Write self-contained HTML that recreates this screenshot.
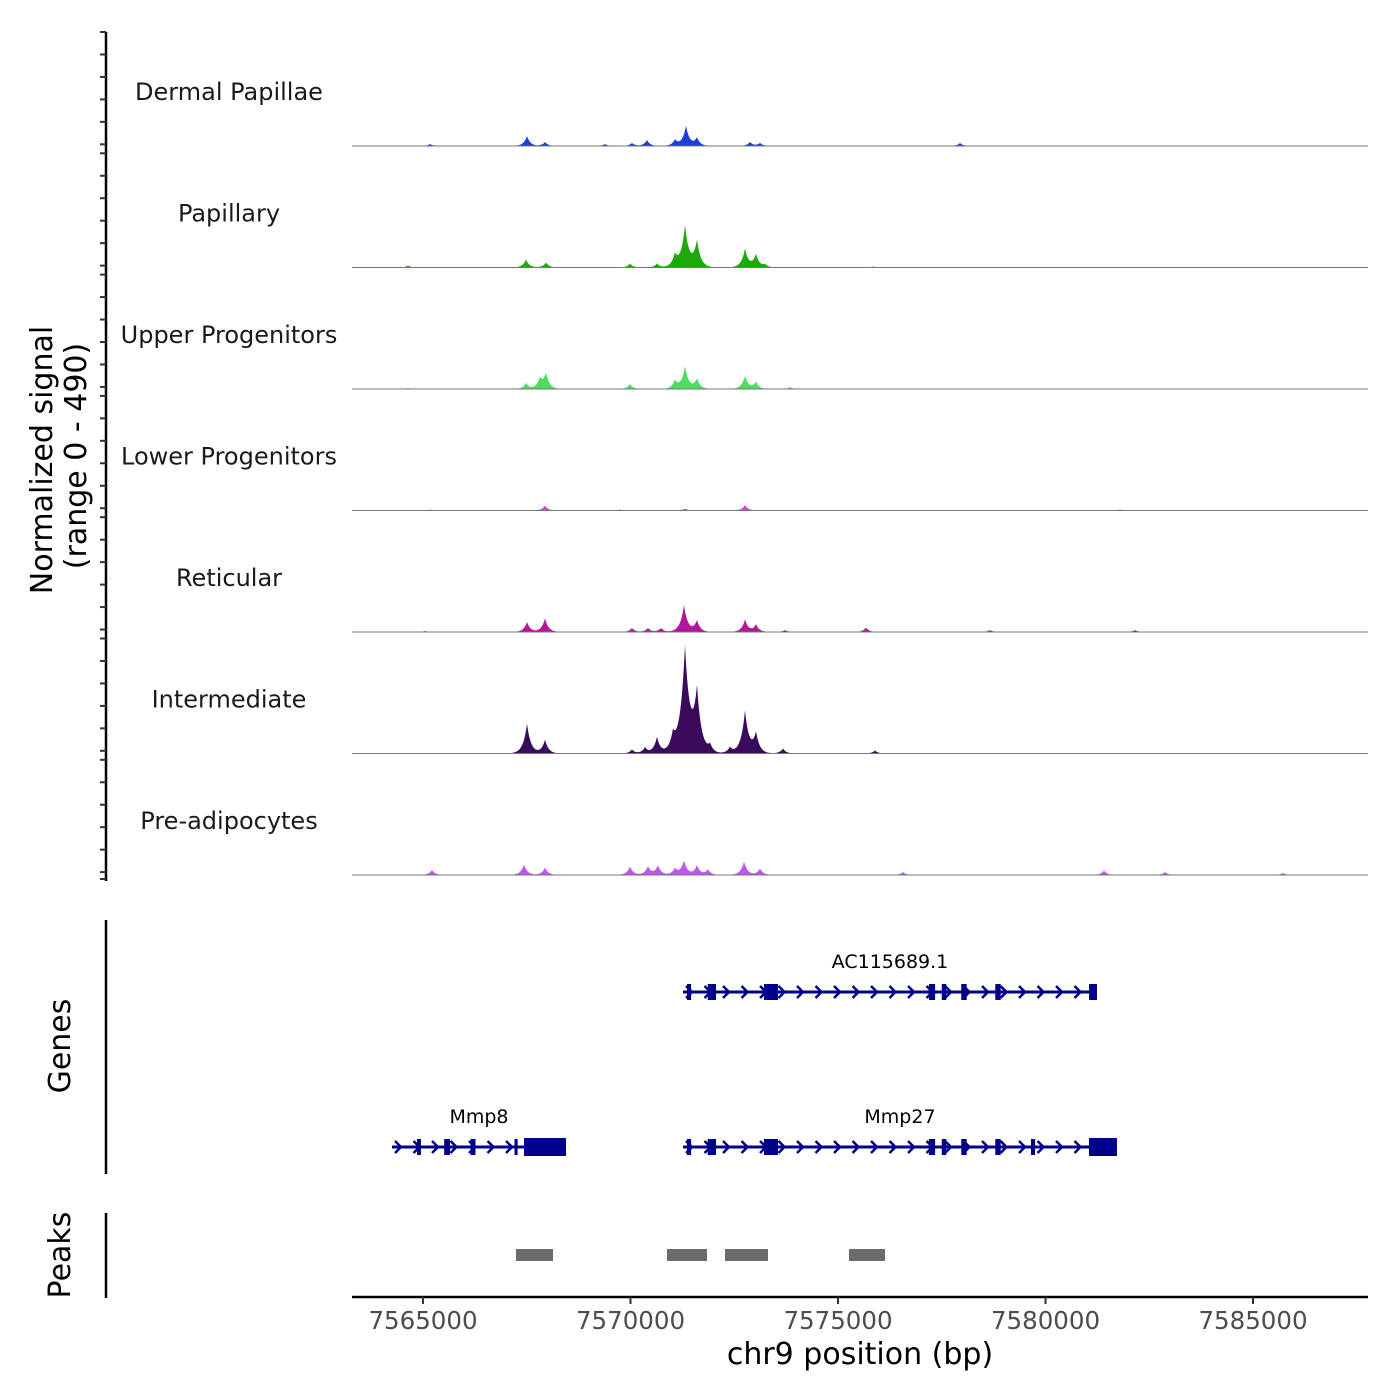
<!DOCTYPE html>
<html><head><meta charset="utf-8"><style>
html,body{margin:0;padding:0;background:#fff;}
svg{display:block;font-family:"DejaVu Sans","Liberation Sans",sans-serif;}
</style></head><body>
<svg id="chart" width="1400" height="1400" viewBox="0 0 1400 1400" xmlns="http://www.w3.org/2000/svg">
<g id="tracks"></g>
<g id="genes"></g>
<g id="peaks"></g>
<g id="axes"></g>
<text transform="translate(52,460) rotate(-90)" text-anchor="middle" font-size="30" fill="#000">Normalized signal</text>
<text transform="translate(86,456) rotate(-90)" text-anchor="middle" font-size="30" fill="#000">(range 0 - 490)</text>
<text transform="translate(70,1046) rotate(-90)" text-anchor="middle" font-size="30" fill="#000">Genes</text>
<text transform="translate(70,1255) rotate(-90)" text-anchor="middle" font-size="30" fill="#000">Peaks</text>
<text x="860" y="1364" text-anchor="middle" font-size="30" fill="#000">chr9 position (bp)</text>
</svg>
<script>
// ---- data ----
const trackNames = ["Dermal Papillae","Papillary","Upper Progenitors","Lower Progenitors","Reticular","Intermediate","Pre-adipocytes"];
const trackColors = ["#1a3fd6","#1fa80c","#4fdc60","#e63ddb","#b3159d","#3a0a5b","#bb56f4"];
const dpPos = [7565168,7567506,7567940,7569385,7570036,7570397,7571072,7571337,7571602,7572879,7573120,7577939];
const dpVal = [8,40,16,8,12,24,24,80,32,16,12,12];
const papPos = [7564638,7567482,7567964,7569988,7570638,7571072,7571313,7571602,7572759,7573024,7573240,7575843];
const papVal = [8,32,20,16,16,48,165,105,75,52,12,4];
const upPos = [7564638,7567482,7567819,7567964,7569988,7571072,7571313,7571602,7572759,7573024,7573843];
const upVal = [4,24,40,60,20,32,90,40,52,28,8];
const lowPos = [7565168,7567940,7569747,7571313,7572759,7581794];
const lowVal = [4,20,4,8,22,4];
const retPos = [7565048,7567506,7567940,7570036,7570421,7570734,7571289,7571602,7572759,7573024,7573722,7575674,7578662,7582156];
const retVal = [4,40,55,16,16,16,108,45,50,30,8,18,8,8];
const intPos = [7567506,7567940,7570036,7570349,7570638,7571024,7571313,7571602,7571916,7572397,7572759,7573024,7573674,7575891];
const intVal = [120,55,16,24,65,62,420,240,30,24,170,78,20,12];
const prePos = [7565217,7567434,7567940,7569988,7570421,7570662,7571072,7571289,7571602,7571867,7572735,7573120,7576566,7581409,7582879,7585722];
const preVal = [20,42,30,34,34,38,26,56,38,22,54,26,12,18,12,8];
const trackPos = [dpPos,papPos,upPos,lowPos,retPos,intPos,prePos];
const trackVal = [dpVal,papVal,upVal,lowVal,retVal,intVal,preVal];

const geneNames = ["AC115689.1","Mmp8","Mmp27"];
const geneStart = [7571265,7564253,7571265];
const geneEnd = [7581240,7568446,7581722];
const geneRow = [0,1,1];
const ac1Exons = [[7571360,7571460],[7571860,7572060],[7573215,7573555],[7577190,7577340],[7577500,7577610],[7577970,7578100],[7578790,7578920],[7581050,7581240]];
const mmp8Exons = [[7564855,7564950],[7565510,7565650],[7566145,7566265],[7567205,7567280],[7567434,7568446]];
const mmp27Exons = [[7571360,7571460],[7571860,7572060],[7573215,7573555],[7577190,7577340],[7577500,7577610],[7577970,7578100],[7578790,7578920],[7579650,7579750],[7581048,7581722]];
const geneExons = [ac1Exons,mmp8Exons,mmp27Exons];

const peakStart = [7567241,7570879,7572277,7575265];
const peakEnd = [7568133,7571843,7573313,7576133];

const xTicks = [7565000,7570000,7575000,7580000,7585000];
const yMax = 490;

// ---- scales ----
const X0 = 352, X1 = 1368, BP0 = 7563289, BP1 = 7587771;
function xs(bp){ return X0 + (bp-BP0)/(BP1-BP0)*(X1-X0); }
const trackTop = 24.5, trackH = 121.5;
function ys(i,v){ return trackTop + (i+1)*trackH - v/yMax*trackH; }

const NS = "http://www.w3.org/2000/svg";
function mk(tag, parent, attrs){ const e=document.createElementNS(NS,tag); for(const k in attrs) e.setAttribute(k,attrs[k]); parent.appendChild(e); return e; }

const gT = document.getElementById('tracks');
for(let i=0;i<trackNames.length;i++){
  const base = trackTop+(i+1)*trackH;
  const pos = trackPos[i], val = trackVal[i];
  let d = `M${X0},${base}`;
  for(let px=X0; px<=X1; px+=1){
    const bp = BP0 + (px-X0)/(BP1-BP0)*0 + (px-X0)/(X1-X0)*(BP1-BP0);
    let v = 0;
    for(let k=0;k<pos.length;k++){
      const s = 70 + Math.sqrt(val[k])*3;
      const dd = (bp-pos[k])/s;
      v += val[k]*Math.exp(-Math.abs(dd)*1.1);
    }
    d += ` L${px},${ys(i,v).toFixed(2)}`;
  }
  d += ` L${X1},${base} Z`;
  const p = mk('path', gT, {d:d, fill:trackColors[i]});
  
  
  const bl = mk('line', gT, {x1:X0,x2:X1,y1:base,y2:base,stroke:'#777','stroke-width':1});
  
  
  const t = mk('text', gT, {x:229,y:base-46,'text-anchor':'middle','font-size':24,fill:'#1a1a1a'});
  t.textContent = trackNames[i];
  
  
}

// genes
const gG = document.getElementById('genes');
const rowY = [992,1147];
const GC = '#00008b';
for(let g=0;g<geneNames.length;g++){
  const y = rowY[geneRow[g]];
  const a = xs(geneStart[g]), b = xs(geneEnd[g]);
  const grp = mk('g', gG, {});
  
  
  mk('line', grp, {x1:a,x2:b,y1:y,y2:y,stroke:GC,'stroke-width':3});
  for(let px=a+6; px<b-4; px+=18.5){
    mk('path', grp, {d:`M${px-3},${y-6} L${px+3},${y} L${px-3},${y+6}`,fill:'none',stroke:GC,'stroke-width':2.5});
  }
  for(const ex of geneExons[g]){
    const ea = xs(ex[0]), eb = xs(ex[1]);
    const big = (eb-ea)>20;
    mk('rect', grp, {x:ea,y:y-(big?9:8),width:Math.max(eb-ea,3),height:big?18:16,fill:GC});
  }
  const t = mk('text', grp, {x:(a+b)/2,y:y-24,'text-anchor':'middle','font-size':19,fill:'#000'});
  t.textContent = geneNames[g];
}

// peaks
const gP = document.getElementById('peaks');
for(let k=0;k<peakStart.length;k++){
  const r = mk('rect', gP, {x:xs(peakStart[k]),y:1249,width:xs(peakEnd[k])-xs(peakStart[k]),height:12,fill:'#6b6b6b'});
  
  
}

// axes
const gA = document.getElementById('axes');
mk('line', gA, {x1:106,x2:106,y1:32,y2:881,stroke:'#000','stroke-width':2.5});
for(let i=0;i<7;i++){
  for(let j=0;j<=5;j++){
    const y = 32 + i*121.3 + j*121.3/5.4;
    mk('line', gA, {x1:100,x2:106,y1:y,y2:y,stroke:'#333','stroke-width':2});
  }
}
mk('line', gA, {x1:100,x2:106,y1:879,y2:879,stroke:'#333','stroke-width':2});
mk('line', gA, {x1:106,x2:106,y1:920,y2:1174,stroke:'#000','stroke-width':2.5});
mk('line', gA, {x1:106,x2:106,y1:1213,y2:1298,stroke:'#000','stroke-width':2.5});
mk('line', gA, {x1:X0,x2:X1,y1:1297,y2:1297,stroke:'#000','stroke-width':2.5});
for(const t of xTicks){
  const x = xs(t);
  mk('line', gA, {x1:x,x2:x,y1:1297,y2:1304,stroke:'#333','stroke-width':2});
  const tx = mk('text', gA, {x:x,y:1329,'text-anchor':'middle','font-size':24.5,fill:'#4d4d4d'});
  tx.textContent = t;
  
  
}
</script>
</body></html>
